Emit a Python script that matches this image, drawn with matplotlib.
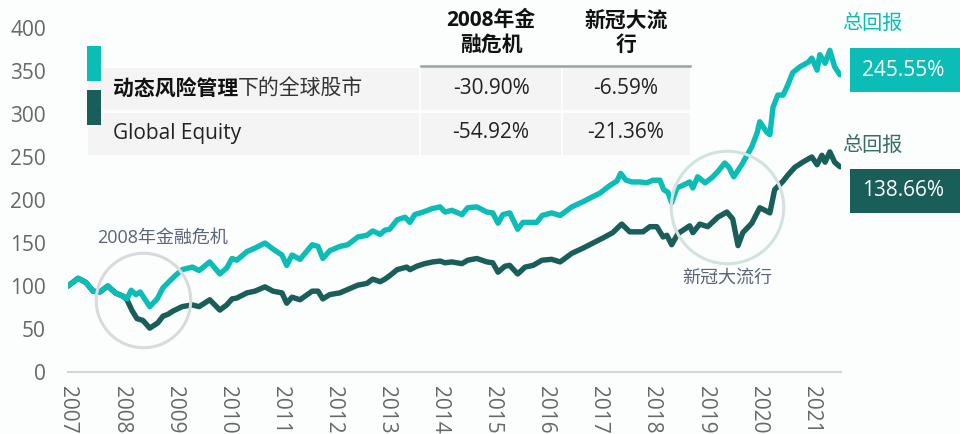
import matplotlib.pyplot as plt
from matplotlib.patches import Rectangle
from matplotlib.lines import Line2D

plt.rcParams['font.family'] = ['Open Sans', 'Noto Sans CJK SC', 'DejaVu Sans']

# 动态风险管理下的全球股市 (index, start = 100)
dyn_years = [2007.00, 2007.19, 2007.34, 2007.47, 2007.60, 2007.75, 2007.89, 2008.04, 2008.11, 2008.19,
             2008.28, 2008.36, 2008.54, 2008.68, 2008.79, 2008.92, 2009.02, 2009.15, 2009.34, 2009.47,
             2009.67, 2009.86, 2009.99, 2010.09, 2010.18, 2010.37, 2010.52, 2010.71, 2010.86, 2011.03,
             2011.12, 2011.22, 2011.37, 2011.60, 2011.71, 2011.80, 2011.93, 2012.12, 2012.27, 2012.46,
             2012.63, 2012.74, 2012.88, 2012.97, 2013.06, 2013.20, 2013.35, 2013.44, 2013.53, 2013.69,
             2013.86, 2014.01, 2014.10, 2014.23, 2014.42, 2014.53, 2014.70, 2014.89, 2015.00, 2015.10,
             2015.19, 2015.32, 2015.47, 2015.57, 2015.70, 2015.83, 2015.93, 2016.11, 2016.27, 2016.49,
             2016.70, 2016.89, 2017.02, 2017.21, 2017.34, 2017.41, 2017.51, 2017.62, 2017.77, 2017.90,
             2018.02, 2018.15, 2018.22, 2018.30, 2018.37, 2018.47, 2018.58, 2018.71, 2018.77, 2018.86,
             2019.00, 2019.13, 2019.24, 2019.37, 2019.45, 2019.54, 2019.69, 2019.88, 2019.98, 2020.03,
             2020.16, 2020.22, 2020.28, 2020.37, 2020.47, 2020.56, 2020.65, 2020.79, 2020.94, 2021.01,
             2021.11, 2021.16, 2021.26, 2021.35, 2021.44, 2021.54]
dyn_vals = [100, 109, 104, 94, 93, 100, 92, 88, 85, 95,
            90, 93, 76, 85, 98, 106, 112, 119, 122, 118,
            128, 114, 121, 132, 130, 140, 144, 150, 143, 136,
            124, 136, 131, 148, 146, 132, 141, 146, 148, 157,
            159, 164, 160, 165, 166, 177, 180, 174, 183, 186,
            190, 192, 186, 188, 183, 191, 192, 186, 185, 173,
            183, 185, 166, 174, 174, 174, 182, 185, 182, 192,
            198, 204, 208, 217, 222, 231, 223, 221, 221, 220,
            223, 223, 212, 209, 197, 214, 217, 221, 214, 227,
            220, 226, 233, 243, 238, 227, 241, 262, 278, 291,
            279, 276, 308, 322, 322, 334, 348, 355, 360, 365,
            351, 369, 359, 374, 355, 345.55]

# Global Equity
eq_years = [2007.00, 2007.19, 2007.34, 2007.47, 2007.60, 2007.75, 2007.89, 2008.04, 2008.11, 2008.21,
            2008.30, 2008.41, 2008.54, 2008.69, 2008.79, 2008.88, 2008.98, 2009.15, 2009.34, 2009.47,
            2009.67, 2009.86, 2009.99, 2010.09, 2010.18, 2010.37, 2010.52, 2010.71, 2010.86, 2011.03,
            2011.12, 2011.22, 2011.37, 2011.60, 2011.71, 2011.80, 2011.93, 2012.12, 2012.27, 2012.46,
            2012.63, 2012.74, 2012.88, 2012.97, 2013.06, 2013.20, 2013.38, 2013.44, 2013.57, 2013.72,
            2013.87, 2014.01, 2014.10, 2014.23, 2014.42, 2014.53, 2014.70, 2014.89, 2015.00, 2015.10,
            2015.23, 2015.32, 2015.47, 2015.61, 2015.76, 2015.93, 2016.11, 2016.27, 2016.49, 2016.70,
            2016.89, 2017.08, 2017.26, 2017.36, 2017.43, 2017.58, 2017.83, 2017.96, 2018.09, 2018.21,
            2018.28, 2018.37, 2018.49, 2018.71, 2018.77, 2018.90, 2019.05, 2019.24, 2019.41, 2019.52,
            2019.62, 2019.71, 2019.88, 2020.03, 2020.16, 2020.22, 2020.31, 2020.47, 2020.56, 2020.69,
            2020.84, 2021.01, 2021.11, 2021.20, 2021.26, 2021.35, 2021.44, 2021.54]
eq_vals = [100, 109, 104, 94, 93, 100, 92, 88, 84, 71,
           62, 60, 51, 57, 65, 67, 71, 76, 78, 76,
           84, 72, 78, 85, 86, 92, 94, 99, 94, 92,
           80, 87, 84, 94, 94, 85, 90, 92, 96, 101,
           103, 108, 105, 108, 112, 119, 122, 119, 123, 126,
           128, 129, 127, 128, 126, 130, 132, 128, 127, 116,
           123, 124, 114, 122, 124, 130, 131, 128, 138, 144,
           150, 156, 162, 168, 172, 163, 163, 169, 169, 157,
           159, 148, 161, 170, 162, 172, 169, 180, 186, 178,
           147, 162, 173, 191, 187, 185, 212, 222, 229, 238,
           244, 250, 241, 252, 244, 256, 244, 238.66]

year_ticks = list(range(2007, 2022))
y_ticks = [0, 50, 100, 150, 200, 250, 300, 350, 400]

row_names = ['Global Equity']
col_headers = ['2008年金\n融危机', '新冠大流\n行']
dyn_drawdowns = ['-30.90%', '-6.59%']
eq_drawdowns = ['-54.92%', '-21.36%']
dyn_total = '245.55%'
eq_total = '138.66%'

TEAL = '#0bbdb6'
DARK = '#1a5e5a'
GRAY = '#676767'

W, H = 960, 434
fig = plt.figure(figsize=(W / 100, H / 100), dpi=100, facecolor='#fcfdfd')


def fx(x):
    return x / W


def fy(y):
    return 1 - y / H


ax = fig.add_axes([fx(68), fy(372), (841 - 68) / W, 344 / H])
ax.set_facecolor('none')
ax.plot(eq_years, eq_vals, color=DARK, lw=3.9, solid_joinstyle='round', solid_capstyle='round')
ax.plot(dyn_years, dyn_vals, color=TEAL, lw=3.9, solid_joinstyle='round', solid_capstyle='round')
ax.set_xlim(2007, 2021.56)
ax.set_ylim(0, 400)

for s in ['top', 'right', 'left']:
    ax.spines[s].set_visible(False)
ax.spines['bottom'].set_color('#d6d6d6')
ax.spines['bottom'].set_linewidth(1.6)

ax.set_yticks(y_ticks)
ax.set_yticklabels([str(v) for v in y_ticks])
ax.set_xticks(year_ticks)
ax.set_xticklabels([str(y) for y in year_ticks], rotation=-90, va='top', ha='center')
ax.tick_params(axis='y', length=0, pad=16, labelsize=15, labelcolor=GRAY)
ax.tick_params(axis='x', length=0, pad=10, labelsize=15, labelcolor=GRAY)

# crisis circles
ax.plot([2008.41], [84], 'o', ms=68, mfc='none', mec='#d9dadb', mew=2.2, clip_on=False)
ax.text(2007.55, 156, '2008年金融危机', fontsize=13, color='#5b6577', va='center', ha='left')
ax.plot([2019.41], [192], 'o', ms=81, mfc='none', mec='#d2e3df', mew=2.2, clip_on=False)
ax.text(2019.41, 110, '新冠大流行', fontsize=13, color='#5b6577', va='center', ha='center')

# table
cell = '#f4f4f4'
for (y0, y1) in [(68, 110), (113, 155)]:
    for (x0, x1) in [(88, 419), (421, 561), (563, 690)]:
        fig.add_artist(Rectangle((fx(x0), fy(y1)), (x1 - x0) / W, (y1 - y0) / H,
                                 transform=fig.transFigure, facecolor=cell, edgecolor='none'))
fig.add_artist(Line2D([fx(421), fx(690)], [fy(66), fy(66)], transform=fig.transFigure,
                      color='#98a3a6', lw=1.8))
fig.add_artist(Rectangle((fx(87), fy(81)), 14 / W, 35 / H, transform=fig.transFigure,
                         facecolor=TEAL, edgecolor='none'))
fig.add_artist(Rectangle((fx(87), fy(125)), 14 / W, 35 / H, transform=fig.transFigure,
                         facecolor=DARK, edgecolor='none'))

col_x = [491, 626]
for cx, head in zip(col_x, col_headers):
    fig.text(fx(cx), fy(33), head, ha='center', va='center', fontsize=15,
             fontweight='bold', color='#111111', linespacing=1.2)

t1 = fig.text(fx(113), fy(89), '动态风险管理', ha='left', va='center', fontsize=15,
              fontweight='bold', color='#111111')
fig.add_artist(plt.Annotation('下的全球股市', xy=(1, 0), xycoords=t1, ha='left', va='bottom',
                              fontsize=15, color='#333333'))
fig.text(fx(113), fy(133), row_names[0], ha='left', va='center', fontsize=15, color='#222222')
for cx, a, b in zip(col_x, dyn_drawdowns, eq_drawdowns):
    fig.text(fx(cx), fy(89), a, ha='center', va='center', fontsize=15, color='#222222')
    fig.text(fx(cx), fy(133), b, ha='center', va='center', fontsize=15, color='#222222')

# total return labels
fig.text(fx(842), fy(24), '总回报', ha='left', va='center', fontsize=14.5, color=TEAL)
fig.add_artist(Rectangle((fx(850), fy(92)), 110 / W, 44 / H, transform=fig.transFigure,
                         facecolor=TEAL, edgecolor='none'))
fig.text(fx(903), fy(70), dyn_total, ha='center', va='center', fontsize=15, color='white')
fig.text(fx(842), fy(146), '总回报', ha='left', va='center', fontsize=14.5, color='#3a6c68')
fig.add_artist(Rectangle((fx(850), fy(213)), 110 / W, 44 / H, transform=fig.transFigure,
                         facecolor=DARK, edgecolor='none'))
fig.text(fx(903), fy(191), eq_total, ha='center', va='center', fontsize=15, color='white')

fig.savefig('out.png', dpi=100, facecolor=fig.get_facecolor())
